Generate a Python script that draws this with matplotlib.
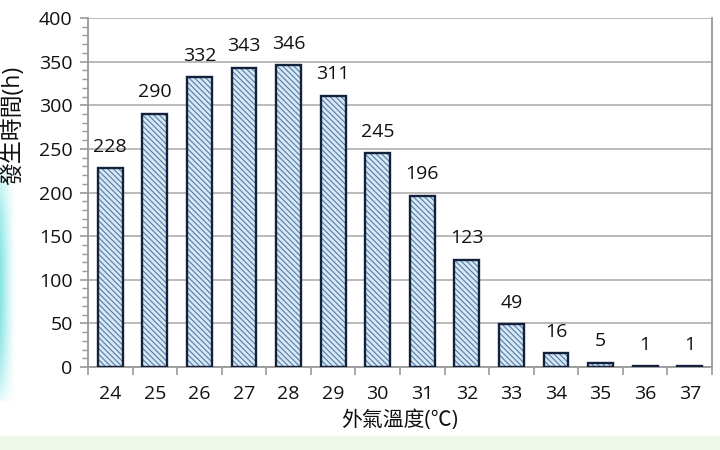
import matplotlib
matplotlib.use('Agg')
import matplotlib.pyplot as plt
import numpy as np
from matplotlib.ticker import MultipleLocator

plt.rcParams['font.family'] = ['Open Sans', 'Noto Sans CJK TC', 'DejaVu Sans']
plt.rcParams['hatch.linewidth'] = 0.8

temps = ['24', '25', '26', '27', '28', '29', '30', '31', '32', '33', '34', '35', '36', '37']
hours = [228, 290, 332, 343, 346, 311, 245, 196, 123, 49, 16, 5, 1, 1]

fig = plt.figure(figsize=(7.2, 4.5), dpi=100)
fig.patch.set_facecolor('white')

# light green strip at the bottom of the scan
fig.add_artist(plt.Rectangle((0, 0), 1, 0.032, transform=fig.transFigure,
                             color='#eef8e8', zorder=0))

# cyan glow on the left edge of the scan
glow = fig.add_axes([0, 45 / 450, 16 / 720, 240 / 450])
grad = np.linspace(1, 0, 64).reshape(1, -1) ** 1.3
vert = np.sin(np.linspace(0, np.pi, 64)).reshape(-1, 1) ** 0.6
rgba = np.ones((64, 64, 4))
rgba[..., 0] = 0.45
rgba[..., 1] = 0.88
rgba[..., 2] = 0.88
rgba[..., 3] = grad * vert * 0.9
glow.imshow(rgba, aspect='auto')
glow.axis('off')

ax = fig.add_axes([88 / 720, (450 - 367) / 450, (712 - 88) / 720, (367 - 18) / 450])
x = np.arange(len(temps))
ax.bar(x, hours, width=0.56, color='#d8e7f2', edgecolor='#4f7eab',
       hatch='\\\\\\\\\\\\', linewidth=0, zorder=2)
ax.bar(x, hours, width=0.56, fill=False, edgecolor='#13213f', linewidth=1.7, zorder=3)

for xi, h in zip(x, hours):
    ax.annotate(str(h), (xi, h), xytext=(0, 15.5), textcoords='offset points',
                ha='center', va='center', fontsize=14, color='#111111')

ax.set_xlim(-0.5, len(temps) - 0.5)
ax.set_ylim(0, 400)
ax.yaxis.set_major_locator(MultipleLocator(50))
ax.yaxis.set_minor_locator(MultipleLocator(10))
ax.grid(axis='y', color='#b4b4b4', linewidth=1.3, zorder=0)
ax.set_axisbelow(True)

ax.set_xticks(x)
ax.set_xticklabels(temps, fontsize=14)
ax.set_xticks(np.arange(-0.5, len(temps), 1), minor=True)
ax.tick_params(axis='x', which='major', length=0, pad=13)
ax.tick_params(axis='x', which='minor', length=6, color='#999999', width=1.2)
ax.tick_params(axis='y', which='major', length=6, color='#999999', width=1.2,
               labelsize=14, pad=5)
ax.tick_params(axis='y', which='minor', length=4, color='#999999', width=1)
for lab in ax.get_xticklabels() + ax.get_yticklabels():
    lab.set_color('#111111')

ax.spines['top'].set_visible(False)
for side in ['left', 'bottom', 'right']:
    ax.spines[side].set_color('#999999')
    ax.spines[side].set_linewidth(1.3)

ax.set_xlabel('外氣溫度(℃)', fontsize=15, labelpad=5, color='#111111')
fig.text(13 / 720, 1 - 125 / 450, '發生時間(h)', rotation=90, fontsize=16.5,
         ha='center', va='center', color='#111111')

plt.savefig('out.png', dpi=100)
